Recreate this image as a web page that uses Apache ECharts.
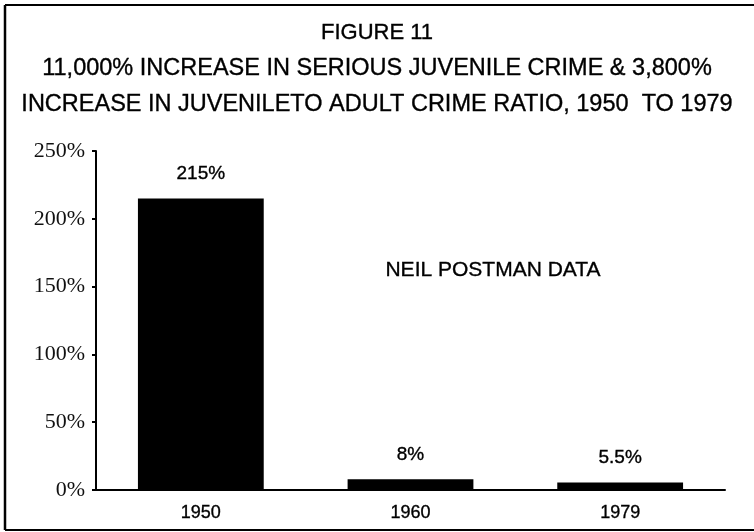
<!DOCTYPE html>
<html>
<head>
<meta charset="utf-8">
<script src="https://cdn.jsdelivr.net/npm/echarts@6/dist/echarts.min.js"></script>
<style>
html,body{margin:0;padding:0;background:#fff;}
#chart{width:754px;height:532px;}
</style>
</head>
<body>
<div id="chart"></div>
<script>
const years = ['1950', '1960', '1979'];
const values = [215, 8, 5.5];
const valueLabels = ['215%', '8%', '5.5%'];
const yTicks = [0, 50, 100, 150, 200, 250];
const titleLines = [
  'FIGURE 11',
  '11,000% INCREASE IN SERIOUS JUVENILE CRIME & 3,800%',
  'INCREASE IN JUVENILETO ADULT CRIME RATIO, 1950  TO 1979'
];
const note = 'NEIL POSTMAN DATA';

const chart = echarts.init(document.getElementById('chart'), null, {renderer: 'canvas'});
const sans = 'Arial, "Liberation Sans", Helvetica, sans-serif';
const serif = '"Liberation Serif", "Times New Roman", serif';
const ink = '#000';
const heavy = {textBorderColor: ink, textBorderWidth: 0.35};

chart.setOption({
  backgroundColor: '#fff',
  animation: false,
  grid: {left: 96, right: 29, top: 151, bottom: 42, containLabel: false},
  xAxis: {
    type: 'category',
    data: years,
    axisLine: {lineStyle: {color: '#000', width: 2}},
    axisTick: {show: false},
    axisLabel: Object.assign({color: ink, fontFamily: sans, fontSize: 18, margin: 14}, heavy)
  },
  yAxis: {
    type: 'value',
    min: yTicks[0],
    max: yTicks[yTicks.length - 1],
    interval: 50,
    splitLine: {show: false},
    axisLine: {show: true, lineStyle: {color: '#000', width: 2}},
    axisTick: {show: true, length: 4, lineStyle: {color: '#000', width: 2}},
    axisLabel: {color: '#111', fontFamily: serif, fontSize: 22, margin: 11,
      formatter: v => v + '%'}
  },
  series: [{
    type: 'bar',
    data: values,
    barWidth: '60%',
    itemStyle: {color: '#000'},
    label: Object.assign({
      show: true, position: 'top', distance: 15,
      color: ink, fontFamily: sans, fontSize: 19,
      formatter: p => valueLabels[p.dataIndex]
    }, heavy)
  }],
  graphic: [
    {type: 'line', shape: {x1: 5, y1: 5, x2: 754, y2: 5}, style: {stroke: '#000', lineWidth: 2}},
    {type: 'line', shape: {x1: 5, y1: 5, x2: 5, y2: 530}, style: {stroke: '#000', lineWidth: 2.5}},
    {type: 'line', shape: {x1: 5, y1: 530, x2: 754, y2: 530}, style: {stroke: '#000', lineWidth: 2}},
    {type: 'text', x: 377, y: 33, style: {text: titleLines[0], font: '22px ' + sans, fill: ink, stroke: ink, lineWidth: 0.35, textAlign: 'center', textVerticalAlign: 'middle'}},
    {type: 'text', x: 377, y: 69, style: {text: titleLines[1], font: '23.5px ' + sans, fill: ink, stroke: ink, lineWidth: 0.35, textAlign: 'center', textVerticalAlign: 'middle'}},
    {type: 'text', x: 377, y: 105, style: {text: titleLines[2], font: '23.5px ' + sans, fill: ink, stroke: ink, lineWidth: 0.35, textAlign: 'center', textVerticalAlign: 'middle'}},
    {type: 'text', x: 493, y: 270, style: {text: note, font: '21px ' + sans, fill: ink, stroke: ink, lineWidth: 0.35, textAlign: 'center', textVerticalAlign: 'middle'}}
  ]
});
</script>
</body>
</html>
